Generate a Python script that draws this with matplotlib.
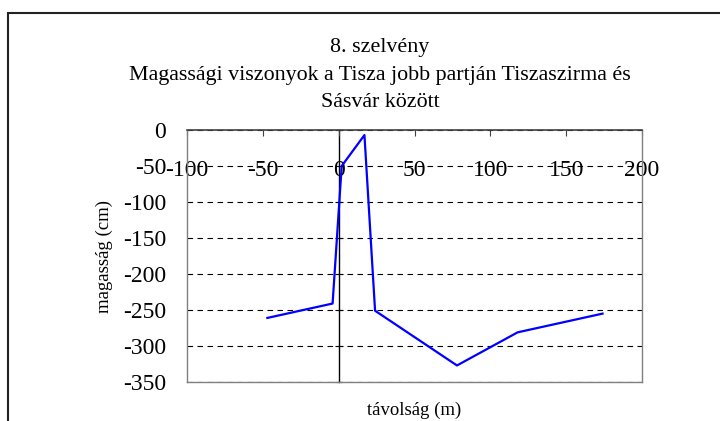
import matplotlib.pyplot as plt
from matplotlib.patches import Rectangle

plt.rcParams['font.family'] = ['Liberation Serif', 'DejaVu Serif']
plt.rcParams['axes.unicode_minus'] = False

# szelveny adatai
tavolsag = [-47, -4, 2, 17, 24, 78, 118, 174]
magassag = [-261, -241, -50, -7, -251, -327, -281, -255]

x_ticks = [-100, -50, 0, 50, 100, 150, 200]
y_ticks = [0, -50, -100, -150, -200, -250, -300, -350]

cim = "8. szelvény\nMagassági viszonyok a Tisza jobb partján Tiszaszirma és\nSásvár között"

fig = plt.figure(figsize=(7.2, 4.21), dpi=100)
ax = fig.add_axes([0.2597, 0.0926, 0.632, 0.5986])

ax.plot(tavolsag, magassag, color='#0000ff', lw=1.6, zorder=3)

ax.set_xlim(-100, 200)
ax.set_ylim(-350, 0)
ax.set_xticks(x_ticks)
ax.set_yticks(y_ticks)

# x tengely fent, feliratok a tengely alatt
ax.xaxis.set_ticks_position('top')
ax.tick_params(axis='x', direction='in', length=4, width=0.8, color='#404040',
               pad=-37, labelsize=17)
ax.tick_params(axis='y', length=0, pad=15, labelsize=17)

ax.yaxis.grid(True, linestyle=(0, (5, 4)), color='black', lw=0.8)
ax.set_axisbelow(True)

for s in ['left', 'right', 'bottom']:
    ax.spines[s].set_color('#808080')
    ax.spines[s].set_linewidth(1.0)
ax.spines['top'].set_color('#404040')
ax.spines['top'].set_linewidth(1.2)

# y tengely vonala x=0-nal
sec = ax.secondary_yaxis(0, transform=ax.transData)
sec.set_yticks(y_ticks)
sec.tick_params(direction='inout', length=6, width=0.8, labelleft=False)
sec.spines['left'].set_color('black')
sec.spines['left'].set_linewidth(1.0)

ax.set_ylabel('magasság (cm)', fontsize=13.5, labelpad=7)
ax.set_xlabel('távolság (m)', fontsize=13.5, labelpad=14)

fig.text(380 / 720, 1 - 38 / 421, cim, ha='center', va='top', fontsize=15.8,
         linespacing=1.62)

# keret
fig.patches.append(Rectangle((7.5 / 720, -0.1), 1.2, 1 - 12.5 / 421 + 0.1,
                             transform=fig.transFigure, fill=False,
                             edgecolor='#222222', lw=1.5))

fig.savefig('out.png', dpi=100)
